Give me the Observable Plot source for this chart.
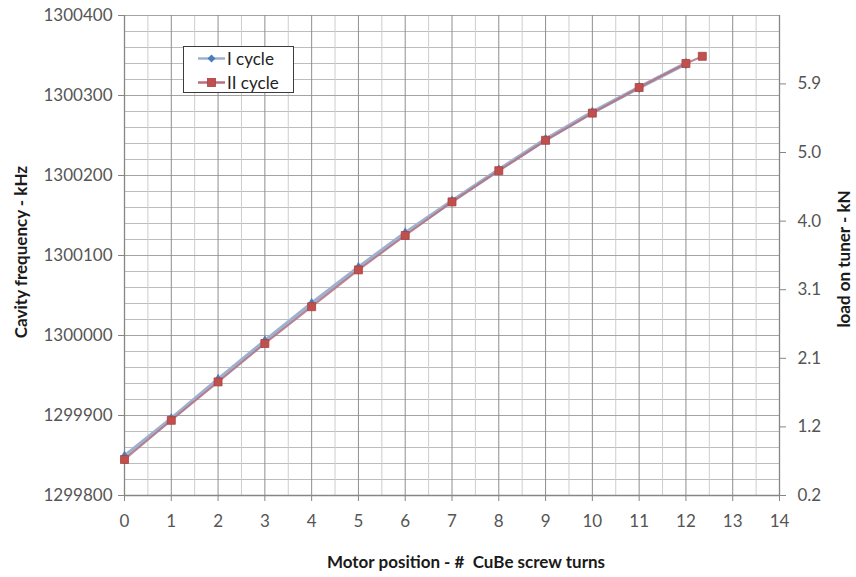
<!DOCTYPE html>
<html>
<head>
<meta charset="utf-8">
<script src="https://cdn.jsdelivr.net/npm/d3@7"></script>
<script src="https://cdn.jsdelivr.net/npm/@observablehq/plot@0.6"></script>
<style>
  body { margin: 0; background: #fff; }
  #wrap { position: relative; width: 856px; height: 577px; font-family: Lato, "Open Sans", sans-serif; }
  .title { position: absolute; font-weight: bold; font-size: 17px; color: #1a1a1a; white-space: nowrap; }
  #ytitle { left: 20px; top: 252px; transform: translate(-50%, -50%) rotate(-90deg); }
  #y2title { left: 843px; top: 259px; transform: translate(-50%, -50%) rotate(-90deg); }
  #xtitle { left: 466px; top: 561px; transform: translate(-50%, -50%); }
  #legend { position: absolute; left: 183px; top: 46px; width: 111px; height: 47px; box-sizing: border-box;
            border: 1px solid #3c3c3c; background: #fff; font-size: 17px; color: #222; }
  .entry { position: absolute; left: 0; height: 20px; display: flex; align-items: center; }
  .entry svg { margin-left: 14px; margin-right: 2px; }
</style>
</head>
<body>
<div id="wrap">
  <div id="chart"></div>
  <div id="legend"></div>
  <div class="title" id="ytitle">Cavity frequency - kHz</div>
  <div class="title" id="y2title">load on tuner - kN</div>
  <div class="title" id="xtitle">Motor position - #&nbsp; CuBe screw turns</div>
</div>
<script>
// ---- data ----
const seriesNames = ["I cycle", "II cycle"];
const turns1 = [0, 1, 2, 3, 4, 5, 6, 7, 8, 9, 10, 11, 12];
const freq1  = [1299849, 1299896, 1299945, 1299993, 1300040, 1300085, 1300128, 1300168, 1300207, 1300245, 1300279, 1300310, 1300340];
const turns2 = [0, 1, 2, 3, 4, 5, 6, 7, 8, 9, 10, 11, 12, 12.35];
const freq2  = [1299845, 1299894, 1299942, 1299990, 1300036, 1300082, 1300125, 1300167, 1300206, 1300244, 1300278, 1300310, 1300340, 1300349];

// ---- ticks ----
const xTicks = [0, 1, 2, 3, 4, 5, 6, 7, 8, 9, 10, 11, 12, 13, 14];
const freqTicks = [1299800, 1299900, 1300000, 1300100, 1300200, 1300300, 1300400];
const loadTicks = [0.2, 1.15, 2.1, 3.05, 4.0, 4.95, 5.9];
const loadLabels = ["0.2", "1.2", "2.1", "3.1", "4.0", "5.0", "5.9"];
const loadBase = 0.2;          // kN at bottom of the frequency axis
const kHzPerKN = 90.26;        // secondary-axis conversion

const xMinor = d3.range(0.5, 14, 1);
const yMinor = d3.range(1299800, 1300401, 20);

const colors = { blueLine: "#9fb0cf", blueDot: "#4a7ebb", redLine: "#b5707e", redDot: "#c0504d" };

const d1 = turns1.map((t, i) => ({ t, f: freq1[i] }));
const d2 = turns2.map((t, i) => ({ t, f: freq2[i] }));

const freqMin = freqTicks[0];
const loadToFreq = l => freqMin + (l - loadBase) * kHzPerKN;
const loadTickFreq = loadTicks.map(loadToFreq);
const loadLabelOf = new Map(loadTickFreq.map((f, i) => [f, loadLabels[i]]));

const axisColor = "#868686";
const tickTextColor = "#555555";

const chart = Plot.plot({
  width: 856,
  height: 577,
  marginLeft: 124,
  marginRight: 77,
  marginTop: 15,
  marginBottom: 82,
  style: { fontFamily: "Lato, 'Open Sans', sans-serif", background: "#fff" },
  x: { domain: [xTicks[0], xTicks[xTicks.length - 1]] },
  y: { domain: [freqTicks[0], freqTicks[freqTicks.length - 1]] },
  marks: [
    Plot.ruleY(yMinor, { stroke: "#bdbdbd", strokeWidth: 1 }),
    Plot.ruleX(xMinor, { stroke: "#cdcdcd", strokeWidth: 1 }),
    Plot.ruleY(freqTicks, { stroke: "#a3a3a3", strokeWidth: 1 }),
    Plot.ruleX(xTicks, { stroke: "#8e8e8e", strokeWidth: 1 }),
    Plot.ruleX([xTicks[0], xTicks[xTicks.length - 1]], { stroke: axisColor, strokeWidth: 1.3 }),
    Plot.ruleY([freqTicks[0]], { stroke: axisColor, strokeWidth: 1.3 }),
    Plot.line(d1, { x: "t", y: "f", stroke: colors.blueLine, strokeWidth: 4 }),
    Plot.line(d2, { x: "t", y: "f", stroke: colors.redLine, strokeWidth: 2, strokeOpacity: 0.85 }),
    Plot.dot(d1, { x: "t", y: "f", symbol: "diamond", r: 3.5, fill: colors.blueDot }),
    Plot.dot(d2, { x: "t", y: "f", symbol: "square", r: 4.5, fill: colors.redDot, stroke: "#a8403e", strokeWidth: 0.8 }),
    Plot.axisX({ ticks: xTicks, tickSize: 6, tickPadding: 13, label: null, fontSize: 17, color: tickTextColor, stroke: axisColor, tickFormat: d3.format("d") }),
    Plot.axisY({ ticks: freqTicks, tickSize: 6, tickPadding: 6, label: null, fontSize: 17, color: tickTextColor, stroke: axisColor, tickFormat: d3.format("d") }),
    Plot.axisY({ anchor: "right", ticks: loadTickFreq, tickSize: 6, tickPadding: 12, label: null, fontSize: 17, color: tickTextColor, stroke: axisColor, tickFormat: f => loadLabelOf.get(f) })
  ]
});
document.getElementById("chart").appendChild(chart);

// ---- legend ----
const legend = document.getElementById("legend");
const entries = [
  { name: seriesNames[0], line: colors.blueLine, dot: colors.blueDot, shape: "diamond" },
  { name: seriesNames[1], line: colors.redLine, dot: colors.redDot, shape: "square" }
];
entries.forEach((e, i) => {
  const div = document.createElement("div");
  div.className = "entry";
  div.style.top = (i === 0 ? 1 : 25) + "px";
  const marker = e.shape === "square"
    ? `<rect x="9.5" y="5.5" width="8" height="8" fill="${e.dot}" stroke="#a8403e" stroke-width="0.8"/>`
    : `<path d="M13.5,5.5 L17.5,9.5 L13.5,13.5 L9.5,9.5 Z" fill="${e.dot}"/>`;
  div.innerHTML = `<svg width="27" height="19"><line x1="0" x2="27" y1="9.5" y2="9.5" stroke="${e.line}" stroke-width="2.5"/>${marker}</svg><span>${e.name}</span>`;
  legend.appendChild(div);
});
</script>
</body>
</html>
